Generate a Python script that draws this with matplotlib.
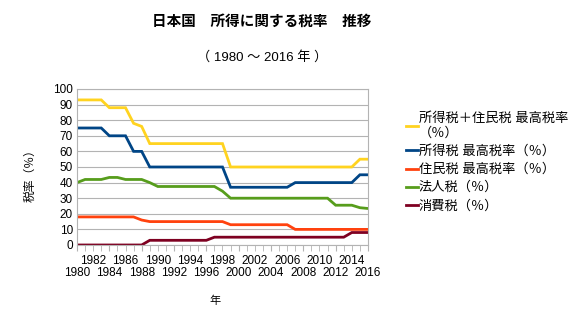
import matplotlib
matplotlib.use("Agg")
import matplotlib.pyplot as plt
from matplotlib.ticker import MultipleLocator, FuncFormatter

plt.rcParams['font.family'] = ['Liberation Sans', 'Noto Sans CJK JP', 'DejaVu Sans']

years = list(range(1980, 2017))

# 所得税 最高税率
income = [75, 75, 75, 75, 70, 70, 70, 60, 60, 50,
          50, 50, 50, 50, 50, 50, 50, 50, 50, 37,
          37, 37, 37, 37, 37, 37, 37, 40, 40, 40,
          40, 40, 40, 40, 40, 45, 45]
# 住民税 最高税率
resident = [18, 18, 18, 18, 18, 18, 18, 18, 16, 15,
            15, 15, 15, 15, 15, 15, 15, 15, 15, 13,
            13, 13, 13, 13, 13, 13, 13, 10, 10, 10,
            10, 10, 10, 10, 10, 10, 10]
# 所得税 + 住民税
combined = [93, 93, 93, 93, 88, 88, 88, 78, 76, 65,
            65, 65, 65, 65, 65, 65, 65, 65, 65, 50,
            50, 50, 50, 50, 50, 50, 50, 50, 50, 50,
            50, 50, 50, 50, 50, 55, 55]
# 法人税
corporate = [40, 42, 42, 42, 43.3, 43.3, 42, 42, 42, 40,
             37.5, 37.5, 37.5, 37.5, 37.5, 37.5, 37.5, 37.5, 34.5, 30,
             30, 30, 30, 30, 30, 30, 30, 30, 30, 30,
             30, 30, 25.5, 25.5, 25.5, 23.9, 23.4]
# 消費税
consumption = [0, 0, 0, 0, 0, 0, 0, 0, 0, 3,
               3, 3, 3, 3, 3, 3, 3, 5, 5, 5,
               5, 5, 5, 5, 5, 5, 5, 5, 5, 5,
               5, 5, 5, 5, 8, 8, 8]

series = [
    ("所得税＋住民税 最高税率\n（％）", combined, "#ffd320"),
    ("所得税 最高税率（％）", income, "#004586"),
    ("住民税 最高税率（％）", resident, "#ff420e"),
    ("法人税（％）", corporate, "#579d1c"),
    ("消費税（％）", consumption, "#7e0021"),
]

fig = plt.figure(figsize=(5.73, 3.26), dpi=100)
ax = fig.add_axes([0.1344, 0.2485, 0.5078, 0.4785])

for label, vals, color in series:
    ax.plot(years, vals, color=color, lw=2.0, label=label, solid_joinstyle='miter')

ax.set_xlim(1980, 2016)
ax.set_ylim(0, 100)
ax.yaxis.set_major_locator(MultipleLocator(10))
ax.grid(axis='y', color='#b3b3b3', lw=0.8)
ax.set_axisbelow(True)
for s in ax.spines.values():
    s.set_color('#b3b3b3')
    s.set_linewidth(0.8)

# lower row: 1980, 1984, ... ; upper row: 1982, 1986, ...
ax.set_xticks(list(range(1980, 2017, 4)))
ax.set_xticks(years, minor=True)
ax.xaxis.set_minor_formatter(FuncFormatter(
    lambda x, pos: str(int(round(x))) if (int(round(x)) - 1982) % 4 == 0 else ""))
ax.tick_params(axis='x', which='both', length=4, color='#b3b3b3', labelsize=8.5)
ax.tick_params(axis='x', which='minor', pad=3)
ax.tick_params(axis='x', which='major', pad=12)
ax.tick_params(axis='y', length=0, labelsize=8.5, pad=3)

fig.text(0.457, 0.932, "日本国　所得に関する税率　推移", ha='center', va='center',
         fontsize=10.5, fontweight='bold')
fig.text(0.457, 0.825, "（ 1980 ～ 2016 年 ）", ha='center', va='center', fontsize=9.5)
fig.text(0.054, 0.47, "税率（％）", rotation=90, ha='center', va='center', fontsize=8.5)
fig.text(0.375, 0.077, "年", ha='center', va='center', fontsize=8)

ax.legend(loc='upper left', bbox_to_anchor=(0.708, 0.655), bbox_transform=fig.transFigure,
          frameon=False, fontsize=9.5, handlelength=0.9, handletextpad=0.1,
          labelspacing=0.42, borderaxespad=0, borderpad=0)

fig.savefig("out.png", dpi=100)
